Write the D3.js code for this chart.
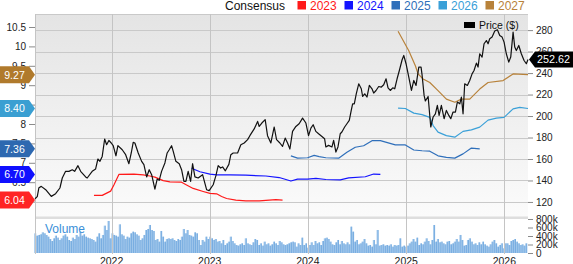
<!DOCTYPE html>
<html>
<head>
<meta charset="utf-8">
<script src="https://cdn.jsdelivr.net/npm/d3@7"></script>
<style>
  body { margin: 0; background: #fff; }
  svg { display: block; font-family: "Liberation Sans", Arial, sans-serif; }
</style>
</head>
<body>
<div id="chart"></div>
<script>
// price, [decimal year, $]
var price = [[2021.219,123],[2021.242,125],[2021.259,133.3],[2021.283,134.5],[2021.328,131.4],[2021.385,125.2],[2021.429,127.7],[2021.473,133],[2021.497,142.3],[2021.531,148.5],[2021.565,148.5],[2021.599,150],[2021.623,148.5],[2021.657,153.8],[2021.684,148.5],[2021.735,143.3],[2021.751,142.3],[2021.802,148.5],[2021.837,150.7],[2021.860,160],[2021.881,157.8],[2021.904,162.4],[2021.929,178.6],[2021.949,173.3],[2021.972,177.3],[2021.996,174.9],[2022.016,172.4],[2022.044,163],[2022.064,172.4],[2022.108,168.6],[2022.143,164],[2022.176,155.6],[2022.200,165.6],[2022.220,175.5],[2022.237,174.9],[2022.271,165.6],[2022.306,157.8],[2022.329,154.7],[2022.357,143.3],[2022.383,150],[2022.408,145.4],[2022.441,132],[2022.465,141.4],[2022.485,140.1],[2022.509,148.5],[2022.543,156.3],[2022.566,165.6],[2022.587,168.6],[2022.611,172.4],[2022.628,167.1],[2022.655,157.8],[2022.689,155.6],[2022.713,150],[2022.737,139.2],[2022.757,139.2],[2022.780,148.5],[2022.805,139.2],[2022.825,155.6],[2022.849,143.3],[2022.882,142.3],[2022.927,145.4],[2022.968,131.4],[2022.994,130.5],[2023.035,136],[2023.063,144.5],[2023.086,153.8],[2023.111,151.6],[2023.131,152.6],[2023.159,149],[2023.195,155],[2023.215,164],[2023.239,165.6],[2023.284,165.6],[2023.317,173.3],[2023.351,174.9],[2023.386,178],[2023.409,181.7],[2023.453,188],[2023.488,195],[2023.504,190.3],[2023.531,193.5],[2023.565,196.6],[2023.589,181.7],[2023.623,174.9],[2023.657,189.8],[2023.681,178],[2023.715,174.9],[2023.742,171.7],[2023.769,179.5],[2023.793,174.9],[2023.817,169.3],[2023.844,185.7],[2023.878,190.3],[2023.911,192.8],[2023.946,198.1],[2023.980,193.5],[2024.007,181.7],[2024.031,188.8],[2024.054,191.9],[2024.081,185.7],[2024.109,183.5],[2024.143,181],[2024.170,178.9],[2024.183,171.2],[2024.211,172.7],[2024.245,171.2],[2024.262,177.3],[2024.285,166.5],[2024.306,171.2],[2024.329,183.5],[2024.346,185.1],[2024.374,189.8],[2024.397,192.8],[2024.421,195.9],[2024.441,205.2],[2024.455,211.4],[2024.472,211.4],[2024.492,220.7],[2024.517,230],[2024.543,225.4],[2024.557,218.2],[2024.578,220.7],[2024.601,217.7],[2024.625,228.5],[2024.652,225.4],[2024.669,221.4],[2024.693,223.8],[2024.720,227.5],[2024.747,227],[2024.771,229.1],[2024.795,234.7],[2024.815,226.3],[2024.838,223.8],[2024.863,226.3],[2024.883,225.4],[2024.907,234.7],[2024.930,242.4],[2024.958,252.4],[2024.975,256.4],[2024.998,248.7],[2025.026,236.3],[2025.053,223.8],[2025.077,233.1],[2025.100,228.5],[2025.128,245.6],[2025.151,245.6],[2025.162,237.8],[2025.182,219.2],[2025.195,214],[2025.223,218.2],[2025.250,189.8],[2025.274,199.1],[2025.297,202.1],[2025.317,209.9],[2025.335,200.6],[2025.358,209.9],[2025.386,197.5],[2025.409,205.2],[2025.434,200.6],[2025.454,197.5],[2025.477,203.7],[2025.501,203.7],[2025.521,213],[2025.546,211.4],[2025.562,217.7],[2025.579,202.1],[2025.596,230],[2025.623,228.5],[2025.647,233.1],[2025.671,239.3],[2025.691,242.4],[2025.715,249.3],[2025.732,245.6],[2025.749,258],[2025.773,254.9],[2025.793,267.3],[2025.817,270.3],[2025.834,267.3],[2025.851,271.9],[2025.875,273.5],[2025.902,279.1],[2025.929,280.3],[2025.953,275],[2025.977,273.5],[2025.997,268.8],[2026.020,258],[2026.045,250.2],[2026.065,254.9],[2026.089,278.1],[2026.106,264.2],[2026.122,261],[2026.147,265.7],[2026.173,258],[2026.201,251.7],[2026.224,248.7],[2026.241,252.62]];

// consensus EPS by fiscal year, [decimal year, eps]
var eps2023 = [[2021.820,6.16],[2021.904,6.16],[2021.990,6.27],[2022.023,6.43],[2022.074,6.70],[2022.227,6.71],[2022.322,6.69],[2022.390,6.66],[2022.441,6.63],[2022.526,6.54],[2022.594,6.51],[2022.713,6.50],[2022.764,6.43],[2022.831,6.34],[2022.933,6.26],[2023.002,6.21],[2023.070,6.20],[2023.121,6.13],[2023.172,6.08],[2023.266,6.04],[2023.368,6.02],[2023.504,6.02],[2023.606,6.04],[2023.674,6.05],[2023.742,6.04]];
var eps2024 = [[2022.815,6.86],[2022.900,6.77],[2023.002,6.71],[2023.070,6.69],[2023.205,6.69],[2023.368,6.68],[2023.572,6.66],[2023.708,6.62],[2023.776,6.57],[2023.827,6.53],[2023.895,6.58],[2023.997,6.58],[2024.082,6.60],[2024.183,6.57],[2024.329,6.56],[2024.415,6.61],[2024.584,6.64],[2024.669,6.71],[2024.737,6.70]];
var eps2025 = [[2023.827,7.18],[2023.895,7.12],[2023.997,7.13],[2024.064,7.19],[2024.115,7.16],[2024.183,7.13],[2024.313,7.12],[2024.397,7.27],[2024.482,7.40],[2024.567,7.44],[2024.652,7.57],[2024.737,7.57],[2024.889,7.46],[2024.991,7.46],[2025.077,7.33],[2025.161,7.31],[2025.240,7.30],[2025.324,7.18],[2025.409,7.14],[2025.495,7.12],[2025.579,7.23],[2025.664,7.38],[2025.749,7.36]];
var eps2026 = [[2024.917,8.41],[2024.991,8.40],[2025.077,8.28],[2025.161,8.24],[2025.240,8.17],[2025.274,7.96],[2025.324,7.79],[2025.409,7.70],[2025.495,7.66],[2025.579,7.81],[2025.664,7.85],[2025.749,7.92],[2025.834,8.10],[2025.918,8.15],[2025.997,8.17],[2026.089,8.39],[2026.157,8.43],[2026.241,8.40]];
var eps2027 = [[2024.917,10.39],[2025.026,9.89],[2025.093,9.50],[2025.121,9.29],[2025.172,9.16],[2025.240,9.07],[2025.324,8.86],[2025.409,8.64],[2025.495,8.56],[2025.562,8.64],[2025.647,8.64],[2025.749,8.90],[2025.834,9.07],[2025.987,9.12],[2026.089,9.29],[2026.241,9.27]];

var seriesNames = ["2023", "2024", "2025", "2026", "2027"];
var seriesColors = ["#ff1a1a", "#1414ff", "#2f6fba", "#3aa0d8", "#b8823a"];
var flagColors = ["#ff2424", "#1010ff", "#2d68b0", "#3a9fd2", "#b07a2c"];

// weekly volume, thousands, first week at volStart
var volStart = 2021.22;
var volume = [463,408,424,439,486,463,424,384,329,282,345,408,361,306,345,408,439,384,306,282,361,329,424,384,502,408,439,384,361,345,329,306,267,384,463,345,424,643,541,753,345,
  463,424,408,384,674,439,408,329,384,361,463,502,486,439,408,306,345,424,541,565,659,541,518,306,329,267,518,384,267,329,345,329,345,306,282,329,306,384,565,463,541,424,408,384,486,463,306,188,306,267,384,329,
  384,345,306,329,267,282,227,306,188,227,267,384,282,227,188,173,204,227,188,345,227,204,188,251,329,306,188,227,173,267,204,227,173,204,267,227,188,282,251,204,188,204,227,251,267,251,149,227,188,361,188,227,
  125,188,251,188,282,227,251,188,282,345,361,329,267,204,188,251,306,204,282,227,204,251,204,620,502,267,306,204,227,267,329,227,173,188,149,306,204,541,173,188,204,173,188,173,204,149,188,173,188,345,149,173,
  149,173,227,267,329,267,361,188,227,204,267,345,282,204,306,659,267,329,251,267,227,204,267,282,204,227,267,329,267,424,306,173,188,306,345,267,204,227,188,251,204,267,204,173,149,204,267,306,227,149,188,227,
  110,227,227,188,282,306,329,267,227,188,204,173,227];

var priceTicks = [120, 140, 160, 180, 200, 220, 240, 260, 280];
var epsTicks = [6, 6.5, 7, 7.5, 8, 8.5, 9, 9.5, 10, 10.5];
var volTicks = [0, 200, 400, 600, 800];
var years = [2022, 2023, 2024, 2025, 2026];

var W = 573, H = 264;
var plotLeft = 35, plotRight = 528, plotTop = 14, priceBottom = 217;

function yd(t) {
  var y = Math.floor(t), a = Date.UTC(y, 0, 1), b = Date.UTC(y + 1, 0, 1);
  return new Date(a + (t - y) * (b - a));
}

var x = d3.scaleUtc().domain([yd(2021.219), yd(2026.241)]).range([plotLeft, plotRight]);
var yP = d3.scaleLinear().domain([106, 295]).range([priceBottom, plotTop]);
var yE = d3.scaleLinear().domain([5.603, 10.835]).range([priceBottom, plotTop]);
var yV = d3.scaleLinear().domain([0, 800]).range([253, 219]);

var svg = d3.select("#chart").append("svg")
    .attr("width", W)
    .attr("height", H);

var grad = svg.append("defs").append("linearGradient")
    .attr("id", "bg").attr("x1", 0).attr("y1", 0).attr("x2", 0).attr("y2", 1);
grad.append("stop").attr("offset", 0).attr("stop-color", "#e4e4e4");
grad.append("stop").attr("offset", 1).attr("stop-color", "#fbfbfb");

svg.append("rect")
    .attr("x", plotLeft).attr("y", plotTop)
    .attr("width", plotRight - plotLeft).attr("height", priceBottom - plotTop)
    .attr("fill", "url(#bg)");

// grid
svg.append("g").selectAll("line").data(priceTicks).join("line")
    .attr("x1", plotLeft).attr("x2", plotRight)
    .attr("y1", function(d) { return Math.round(yP(d)) + 0.5; })
    .attr("y2", function(d) { return Math.round(yP(d)) + 0.5; })
    .attr("stroke", "#c9c9c9");

svg.append("line")
    .attr("x1", plotLeft).attr("x2", plotRight).attr("y1", plotTop + 0.5).attr("y2", plotTop + 0.5)
    .attr("stroke", "#c9c9c9");

svg.append("rect")
    .attr("x", plotLeft).attr("y", 216.5).attr("width", plotRight - plotLeft).attr("height", 2.5)
    .attr("fill", "#dedede");

// volume bars
var step = x(yd(2021 + 7 / 365)) - x(yd(2021));
function volX(i) { return x(yd(volStart + i * 7 / 365.25)); }
var vol = svg.append("g");
vol.selectAll("rect").data(volume).join("rect")
    .attr("x", function(d, i) { return volX(i) - step / 2; })
    .attr("y", function(d) { return yV(d); })
    .attr("width", step)
    .attr("height", function(d) { return yV(0) - yV(d); })
    .attr("fill", "#a6caec");
vol.selectAll("line").data(volume).join("line")
    .attr("x1", function(d, i) { return volX(i) + step / 2 - 0.3; })
    .attr("x2", function(d, i) { return volX(i) + step / 2 - 0.3; })
    .attr("y1", function(d) { return yV(d); })
    .attr("y2", yV(0))
    .attr("stroke", "#4f93d6")
    .attr("stroke-width", 0.6);

svg.append("g").selectAll("line").data(years).join("line")
    .attr("x1", function(d) { return Math.round(x(yd(d))) + 0.5; })
    .attr("x2", function(d) { return Math.round(x(yd(d))) + 0.5; })
    .attr("y1", plotTop).attr("y2", 254)
    .attr("stroke", "#c4c4c4");

svg.append("line")
    .attr("x1", plotLeft + 0.5).attr("x2", plotLeft + 0.5).attr("y1", plotTop).attr("y2", 254)
    .attr("stroke", "#c4c4c4");

svg.append("text")
    .attr("x", 45).attr("y", 233)
    .attr("fill", "#3b8fd8")
    .attr("font-size", 12)
    .text("Volume");

// lines
var epsLine = d3.line()
    .x(function(d) { return x(yd(d[0])); })
    .y(function(d) { return yE(d[1]); });

var priceLine = d3.line()
    .x(function(d) { return x(yd(d[0])); })
    .y(function(d) { return yP(d[1]); });

var epsSeries = [eps2023, eps2024, eps2025, eps2026, eps2027];
epsSeries.forEach(function(s, i) {
  svg.append("path")
      .datum(s)
      .attr("fill", "none")
      .attr("stroke", seriesColors[i])
      .attr("stroke-width", 1.2)
      .attr("stroke-linejoin", "round")
      .attr("d", epsLine);
});

svg.append("path")
    .datum(price)
    .attr("fill", "none")
    .attr("stroke", "#111")
    .attr("stroke-width", 1.2)
    .attr("stroke-linejoin", "round")
    .attr("d", priceLine);

// axes
function styleAxis(g) {
  g.select(".domain").remove();
  g.selectAll(".tick line").attr("stroke", "#8a8a8a");
  g.selectAll(".tick text").attr("fill", "#222").attr("font-size", 10)
    .attr("font-family", "'Liberation Sans', Arial, sans-serif");
}

svg.append("g")
    .attr("transform", "translate(" + plotLeft + ",0)")
    .call(d3.axisLeft(yE).tickValues(epsTicks).tickSize(6).tickPadding(3)
      .tickFormat(function(d) { return String(d); }))
    .call(styleAxis);

svg.append("g")
    .attr("transform", "translate(" + plotRight + ",0)")
    .call(d3.axisRight(yP).tickValues(priceTicks).tickSize(5).tickPadding(3))
    .call(styleAxis);

svg.append("g")
    .attr("transform", "translate(" + plotRight + ",0)")
    .call(d3.axisRight(yV).tickValues(volTicks).tickSize(5).tickPadding(3)
      .tickFormat(function(d) { return d ? d + "k" : "0"; }))
    .call(styleAxis);

svg.append("g").selectAll("text").data(years).join("text")
    .attr("x", function(d) { return x(yd(d)); })
    .attr("y", 264.5)
    .attr("text-anchor", "middle")
    .attr("font-size", 10.5)
    .attr("fill", "#222")
    .text(function(d) { return d; });

// value flags on the left
epsSeries.forEach(function(s, i) {
  var v = s[s.length - 1][1];
  var yy = yE(v);
  svg.append("path")
      .attr("d", "M0," + (yy - 8.5) + "H29L35," + yy + "L29," + (yy + 8.5) + "H0Z")
      .attr("fill", flagColors[i]);
  svg.append("text")
      .attr("x", 14.5).attr("y", yy + 3.8)
      .attr("text-anchor", "middle")
      .attr("fill", "#fff")
      .attr("font-size", 10.5)
      .text(v.toFixed(2));
});

// last price flag
var last = price[price.length - 1][1];
var ly = yP(last);
svg.append("path")
    .attr("d", "M529," + ly + "L535," + (ly - 8) + "H573V" + (ly + 8) + "H535Z")
    .attr("fill", "#000");
svg.append("text")
    .attr("x", 537).attr("y", ly + 3.8)
    .attr("fill", "#fff")
    .attr("font-size", 10.8)
    .text(last.toFixed(2));

// price legend
svg.append("rect").attr("x", 464).attr("y", 22).attr("width", 11).attr("height", 6).attr("fill", "#000");
svg.append("text").attr("x", 479).attr("y", 29).attr("font-size", 10.5).attr("fill", "#111").text("Price ($)");

// consensus legend
svg.append("text").attr("x", 225).attr("y", 9.6).attr("font-size", 12).attr("fill", "#111").text("Consensus");
var lg = svg.append("g").selectAll("g").data(seriesNames).join("g")
    .attr("transform", function(d, i) { return "translate(" + (297.5 + i * 47) + ",0)"; });
lg.append("rect").attr("x", 0).attr("y", 1).attr("width", 8.5).attr("height", 8.5)
    .attr("fill", function(d, i) { return seriesColors[i]; });
lg.append("text").attr("x", 12.5).attr("y", 9.6).attr("font-size", 12)
    .attr("fill", function(d, i) { return seriesColors[i]; })
    .text(function(d) { return d; });
</script>
</body>
</html>
